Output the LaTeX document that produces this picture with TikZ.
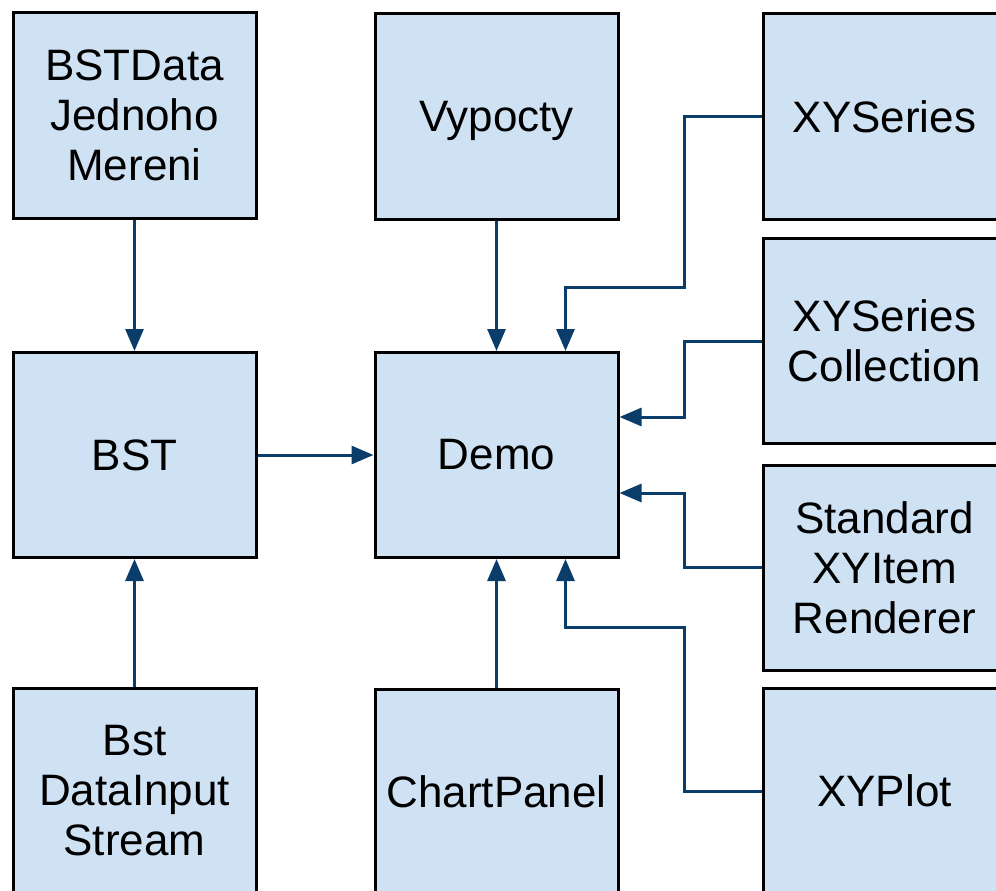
\documentclass[tikz,border=0pt]{standalone}
\usepackage{fontspec}
\setmainfont{Liberation Sans}
\usetikzlibrary{arrows.meta}
\definecolor{boxfill}{HTML}{CFE2F3}
\definecolor{linkblue}{HTML}{0B3D6B}
\begin{document}
\begin{tikzpicture}[x=1pt, y=-1pt,
    every node/.style={draw=black, line width=3pt, fill=boxfill, minimum width=243pt, minimum height=205pt, align=center, inner sep=0pt, font=\fontsize{44}{50}\selectfont},
    link/.style={draw=linkblue, line width=3pt, -{Triangle[length=22pt, width=18pt]}}]
\clip (0,0) rectangle (996,891);
    \node (bstdata) at (134.5,115.5) {BSTData\\Jednoho\\Mereni};
    \node[text depth=0pt] (vypocty) at (496.5,116.5) {Vypocty};
    \node (xyseries) at (884.5,116.5) {XYSeries};
    \node (bst) at (134.5,455) {BST};
    \node (demo) at (496.5,455) {Demo};
    \node (xycoll) at (884.5,341) {XYSeries\\Collection};
    \node (renderer) at (884.5,567.5) {Standard\\XYItem\\Renderer};
    \node (bstinput) at (134.5,791) {Bst\\DataInput\\Stream};
    \node (chartpanel) at (496.5,792) {ChartPanel};
    \node (xyplot) at (884.5,791) {XYPlot};
\coordinate (j1) at (684,287);
\coordinate (j2) at (684,417);
\coordinate (j3) at (684,493);
\coordinate (j4) at (684,627);
    \foreach \from/\to in {bstdata/bst, bstinput/bst, vypocty/demo, chartpanel/demo}
        \draw[link] (\from) -- (\to);
\draw[link] (bst.east) -- (demo.west);
\draw[link] (xyseries.west) -| (j1) -| ([xshift=69pt]demo.north);
\draw[link] (xycoll.west) -| (j2) -- ([yshift=38pt]demo.east);
\draw[link] (renderer.west) -| (j3) -- ([yshift=-38pt]demo.east);
\draw[link] (xyplot.west) -| (j4) -| ([xshift=69pt]demo.south);
\end{tikzpicture}
\end{document}
